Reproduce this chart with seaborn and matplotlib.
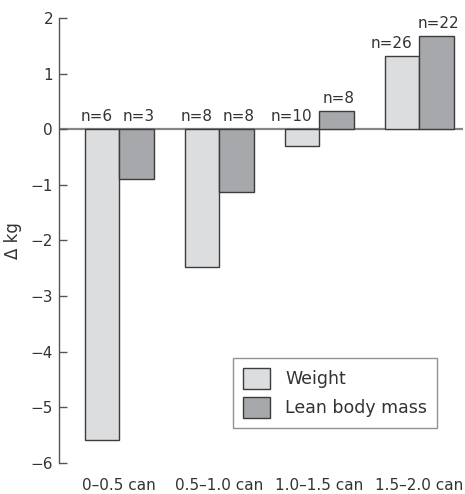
import matplotlib
matplotlib.use("Agg")
import matplotlib.pyplot as plt
import seaborn as sns
import pandas as pd

categories = ["0–0.5 can", "0.5–1.0 can", "1.0–1.5 can", "1.5–2.0 can"]
weight = [-5.60, -2.47, -0.30, 1.32]
lean_mass = [-0.90, -1.12, 0.33, 1.67]
n_weight = [6, 8, 10, 26]
n_lean = [3, 8, 8, 22]
series = ["Weight", "Lean body mass"]
colors = ["#dcdddf", "#a7a8ab"]

df = pd.DataFrame({
    "cat": categories * 2,
    "val": weight + lean_mass,
    "series": [series[0]] * 4 + [series[1]] * 4,
})

sns.set_style("white")
plt.rcParams["font.family"] = ["DejaVu Sans"]

fig = plt.figure(figsize=(4.65, 4.94), dpi=100)
ax = fig.add_axes([0.126, 0.0633, 0.87, 0.9])

sns.barplot(data=df, x="cat", y="val", hue="series", order=categories,
            hue_order=series, palette=colors, width=0.69, gap=0,
            edgecolor="#3c3c3c", linewidth=1.0, saturation=1, ax=ax,
            errorbar=None)

ax.axhline(0, color="#858585", lw=1.6, zorder=0.5)
ax.set_xlim(-0.606, 3.44)
ax.set_ylim(-6, 2)
ax.set_yticks(range(-6, 3))
ax.set_yticklabels([("−" if v < 0 else "") + str(abs(v)) for v in range(-6, 3)])
ax.set_xlabel("")
ax.set_ylabel("Δ kg", fontsize=12, color="#333333", labelpad=6)

for s in ["top", "right", "bottom"]:
    ax.spines[s].set_visible(False)
ax.spines["left"].set_color("#555555")
ax.spines["left"].set_linewidth(1.0)
ax.tick_params(axis="y", left=True, direction="in", length=6, width=1.0,
               color="#555555", labelsize=11, labelcolor="#333333", pad=4)
ax.tick_params(axis="x", bottom=False, length=0, labelsize=11,
               labelcolor="#333333", pad=11)

# n labels
for cont, ns, dx, ha in [(ax.containers[0], n_weight, -6.5, "right"),
                         (ax.containers[1], n_lean, 2, "center")]:
    for bar, n in zip(cont.patches, ns):
        top = max(bar.get_y() + bar.get_height(), bar.get_y(), 0)
        if ha == "right":
            xa = bar.get_x() + bar.get_width()
        else:
            xa = bar.get_x() + bar.get_width() / 2
        ax.annotate(f"n={n}", xy=(xa, top), xytext=(dx * 0.72, 6),
                    textcoords="offset points", ha=ha, va="baseline",
                    fontsize=11, color="#333333")

leg = ax.legend(loc="lower left", bbox_to_anchor=(0.4315, 0.0788),
                borderaxespad=0, fontsize=12.5, frameon=True, fancybox=False,
                handlelength=1.55, handleheight=1.5, handletextpad=0.9,
                labelspacing=0.45, borderpad=0.55, edgecolor="#777777")
leg.get_frame().set_linewidth(1.0)
for t in leg.get_texts():
    t.set_color("#333333")

fig.savefig("out.png", dpi=100)
